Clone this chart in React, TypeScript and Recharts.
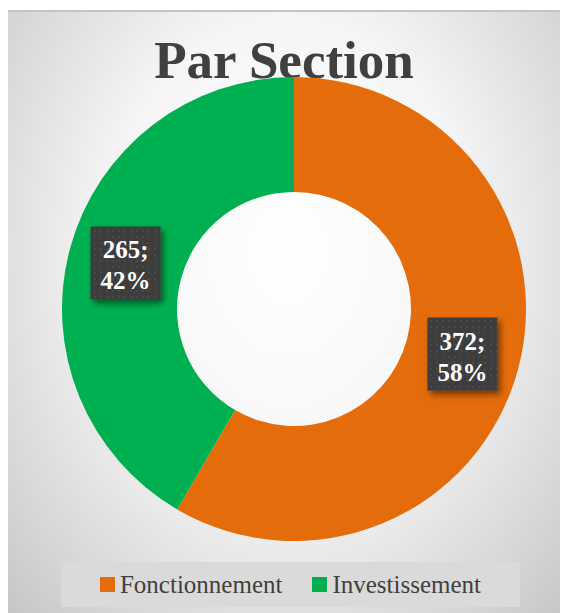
import React from 'react';
import { PieChart, Pie, Cell, Legend } from 'recharts';

const categories = ['Fonctionnement', 'Investissement'];
const amounts = [372, 265];
const colors = ['#E46C0A', '#00B050'];

const data = categories.map((name, i) => ({ name, value: amounts[i] }));
const total = amounts.reduce((a, b) => a + b, 0);

const RAD = Math.PI / 180;
const FONT = 'Liberation Serif, DejaVu Serif, serif';

const renderLabel = (props: any) => {
  const { cx, cy, midAngle, innerRadius, outerRadius, value } = props;
  const r = (innerRadius + outerRadius) / 2;
  const x = cx + r * Math.cos(-midAngle * RAD);
  const y = cy + r * Math.sin(-midAngle * RAD);
  const pct = Math.round((value / total) * 100);
  return (
    <g>
      <rect x={x - 35} y={y - 37} width={70} height={73} fill="url(#dots)" filter="url(#shadow)" />
      <text x={x} y={y - 5} textAnchor="middle" fill="#fff" fontFamily={FONT} fontWeight="bold" fontSize={25}>
        {value};
      </text>
      <text x={x} y={y + 26} textAnchor="middle" fill="#fff" fontFamily={FONT} fontWeight="bold" fontSize={25}>
        {pct}%
      </text>
    </g>
  );
};

const LegendBox = () => (
  <div
    style={{
      width: 459,
      height: 45,
      marginLeft: 53,
      background: '#dadada',
      display: 'flex',
      alignItems: 'center',
      justifyContent: 'center',
      gap: 30,
      fontFamily: FONT,
      fontSize: 25,
      color: '#404040',
    }}
  >
    {categories.map((c, i) => (
      <span key={c} style={{ display: 'flex', alignItems: 'center', fontFamily: FONT }}>
        <span style={{ width: 15, height: 15, background: colors[i], marginRight: 5, display: 'inline-block' }} />
        {c}
      </span>
    ))}
  </div>
);

export default function App() {
  return (
    <div
      style={{
        width: 560,
        height: 603,
        marginTop: 2,
        borderTop: '2px solid #c4c4c4',
        boxSizing: 'border-box',
        background: 'radial-gradient(ellipse at 50% 40%, #ffffff 0%, #f6f6f6 45%, #d4d4d4 85%, #c6c6c6 100%)',
        position: 'relative',
      }}
    >
      <PieChart width={560} height={601}>
        <defs>
          <pattern id="dots" width="6" height="6" patternUnits="userSpaceOnUse">
            <rect width="6" height="6" fill="#3d3d3d" />
            <rect x="2" y="2" width="2" height="2" fill="#4a4a4a" />
          </pattern>
          <filter id="shadow" x="-20%" y="-20%" width="150%" height="150%">
            <feDropShadow dx="3" dy="4" stdDeviation="3" floodColor="#000" floodOpacity="0.5" />
          </filter>
        </defs>
        <text x={276} y={66} textAnchor="middle" fill="#404040" fontFamily={FONT} fontWeight="bold" fontSize={53}>
          Par Section
        </text>
        <Pie
          data={data}
          dataKey="value"
          nameKey="name"
          cx={281}
          cy={292}
          innerRadius={117}
          outerRadius={232}
          startAngle={90}
          endAngle={-270}
          stroke="none"
          label={renderLabel}
          labelLine={false}
          isAnimationActive={false}
        >
          {data.map((d, i) => (
            <Cell key={d.name} fill={colors[i]} />
          ))}
        </Pie>
        <Legend content={<LegendBox />} wrapperStyle={{ top: 550, left: 0, width: 560 }} />
      </PieChart>
    </div>
  );
}
